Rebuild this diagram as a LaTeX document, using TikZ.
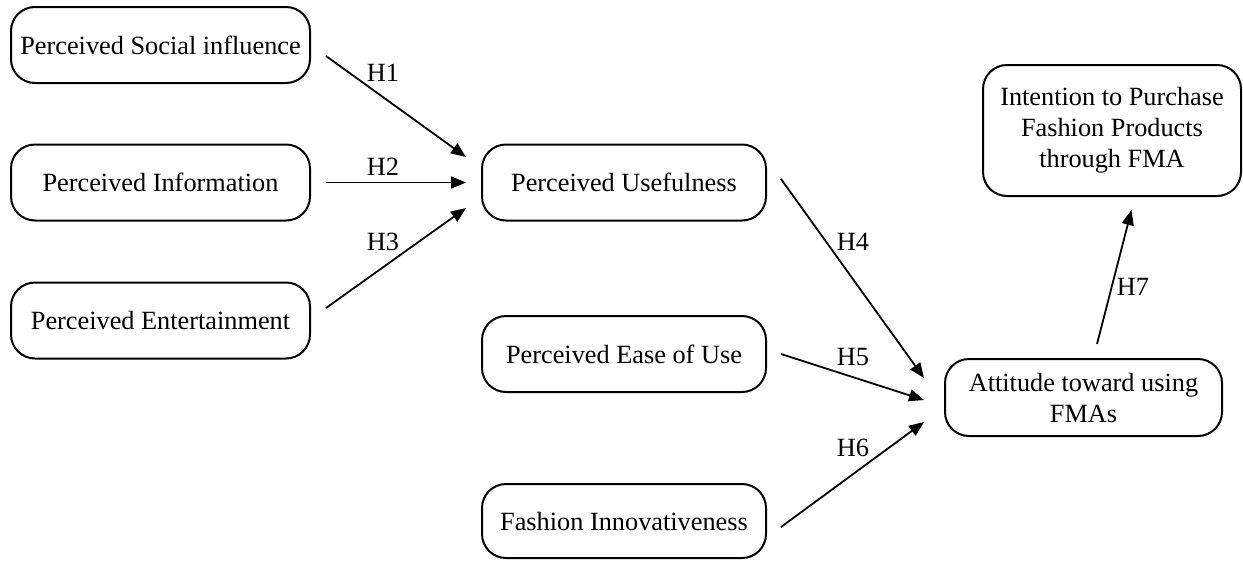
\documentclass[tikz,border=0pt]{standalone}
\usepackage{fontspec}
\setmainfont{Liberation Serif}
\usetikzlibrary{arrows.meta}

\begin{document}
\begin{tikzpicture}[x=1pt, y=-1pt,
    box/.style={rectangle, rounded corners=24pt, draw, line width=2pt, align=center,
                minimum width=299pt, minimum height=76pt, inner sep=0pt,
                font=\fontsize{26.3}{31}\selectfont},
    hyp/.style={line width=1.8pt, -{Triangle[length=15pt,width=12pt]}},
    hlab/.style={inner sep=0pt, font=\fontsize{26.3}{30}\selectfont}]
  \useasboundingbox (0,0) rectangle (1243,560);
  \node[box] (psi)  at (160.5,45)  {Perceived Social influence};
  \node[box] (pinf) at (160.5,182.5) {Perceived Information};
  \node[box] (pent) at (160.5,320.5) {Perceived Entertainment};
  \node[box, minimum width=284pt] (pu)   at (624,182.5) {Perceived Usefulness};
  \node[box, minimum width=284pt] (peou) at (624,354)   {Perceived Ease of Use};
  \node[box, minimum width=284pt, minimum height=74pt] (fi) at (624,521) {Fashion Innovativeness};
  \node[box, minimum width=277pt, minimum height=77pt] (att) at (1083.5,397.5) {Attitude toward using\\FMAs};
  \node[box, minimum width=258pt, minimum height=131pt] (ipf) at (1112,130.5)
       {Intention to Purchase\\Fashion Products\\through FMA};
  \draw[hyp] ([shift={(15,11)}]psi.east) -- ([shift={(-15,-25.5)}]pu.west);
  \draw[hyp] ([shift={(15,0)}]pinf.east) -- ([shift={(-15,0)}]pu.west);
  \draw[hyp] ([shift={(15,-12.5)}]pent.east) -- ([shift={(-15,25.5)}]pu.west);
  \draw[hyp] ([shift={(14,-3.5)}]pu.east) -- ([shift={(-20,-19.5)}]att.west);
  \draw[hyp] ([shift={(14,0)}]peou.east) -- ([shift={(-20,2.5)}]att.west);
  \draw[hyp] ([shift={(14,6)}]fi.east) -- ([shift={(-20,24.5)}]att.west);
  \draw[hyp] ([shift={(13.5,-14)}]att.north) -- ([shift={(19.5,13)}]ipf.south);
  \node[hlab] (h1) at (383,73)  {H1}; \node[hlab] (h2) at (383,167) {H2};
  \node[hlab] (h3) at (383,242) {H3}; \node[hlab] (h4) at (853,242) {H4};
  \node[hlab] (h5) at (853,357) {H5}; \node[hlab] (h6) at (853,448) {H6};
  \node[hlab] (h7) at (1133,287) {H7};
\end{tikzpicture}
\end{document}
